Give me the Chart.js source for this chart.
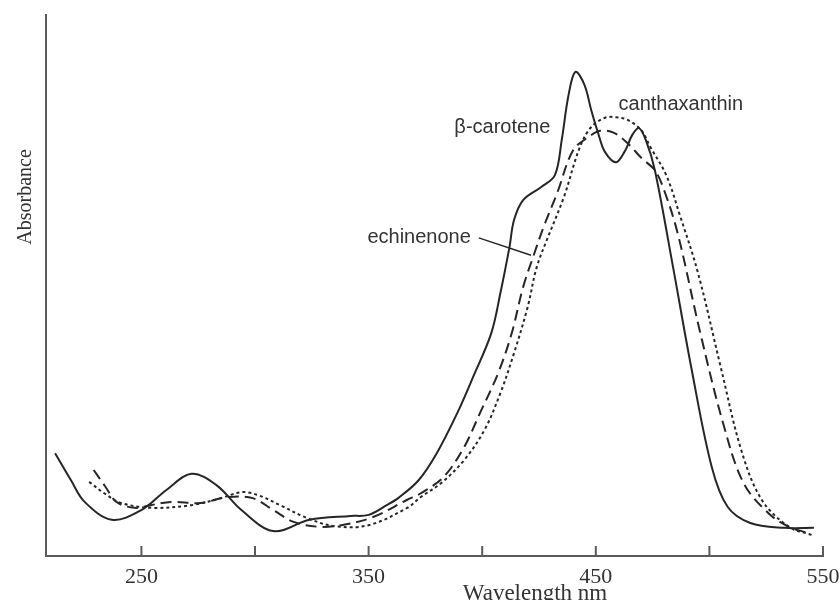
<!DOCTYPE html>
<html>
<head>
<meta charset="utf-8">
<title>Carotenoid absorption spectra</title>
<script src="https://cdn.jsdelivr.net/npm/chart.js@4.4.0/dist/chart.umd.min.js"></script>
<style>
  html, body { margin: 0; padding: 0; background: #fff; }
  #wrap { width: 840px; height: 600px; }
</style>
</head>
<body>
<div id="wrap"><canvas id="spectra" width="840" height="600"></canvas></div>
<script>
// wavelength (nm) and relative absorbance for each pigment
const betaCaroteneNm = [212, 219, 225, 237, 250, 261, 272, 283, 294, 308, 324, 342, 350, 358, 363, 372, 380, 389, 396, 404, 408, 412, 414, 418, 426, 432, 435, 438, 441, 445, 448, 451, 454, 459, 463, 466, 469, 472, 476, 484, 492, 501, 508, 518, 533, 546];
const betaCaroteneAbs = [0.190, 0.140, 0.100, 0.067, 0.085, 0.122, 0.152, 0.131, 0.085, 0.046, 0.067, 0.074, 0.076, 0.094, 0.107, 0.140, 0.190, 0.264, 0.331, 0.412, 0.486, 0.571, 0.621, 0.658, 0.682, 0.704, 0.769, 0.852, 0.895, 0.871, 0.824, 0.782, 0.747, 0.728, 0.750, 0.778, 0.791, 0.769, 0.713, 0.534, 0.349, 0.165, 0.091, 0.061, 0.052, 0.052];

const echinenoneNm = [229, 234, 239, 247, 254, 263, 276, 288, 299, 308, 317, 328, 338, 352, 367, 373, 383, 392, 399, 407, 413, 418, 423, 427, 433, 440, 447, 452, 458, 464, 470, 476, 480, 486, 496, 506, 515, 526, 535, 543];
const echinenoneAbs = [0.159, 0.129, 0.100, 0.089, 0.094, 0.100, 0.098, 0.109, 0.107, 0.085, 0.063, 0.054, 0.057, 0.072, 0.104, 0.116, 0.146, 0.201, 0.264, 0.338, 0.412, 0.497, 0.560, 0.608, 0.671, 0.750, 0.775, 0.786, 0.782, 0.763, 0.736, 0.713, 0.677, 0.597, 0.412, 0.246, 0.135, 0.079, 0.054, 0.043];

const canthaxanthinNm = [227, 234, 241, 255, 272, 285, 294, 301, 311, 323, 335, 350, 367, 373, 382, 392, 401, 408, 414, 420, 424, 429, 436, 443, 448, 454, 459, 464, 470, 474, 481, 487, 495, 505, 514, 523, 535, 545];
const canthaxanthinAbs = [0.137, 0.115, 0.098, 0.089, 0.094, 0.107, 0.118, 0.113, 0.094, 0.070, 0.055, 0.057, 0.089, 0.109, 0.135, 0.177, 0.233, 0.301, 0.375, 0.460, 0.534, 0.590, 0.664, 0.756, 0.793, 0.810, 0.811, 0.806, 0.787, 0.756, 0.704, 0.630, 0.523, 0.349, 0.196, 0.104, 0.054, 0.039];

// x axis ticks; only every other one carries a label
const tickValues = [250, 300, 350, 400, 450, 500, 550];
const labelledTicks = [250, 350, 450, 550];

const ink = '#262626';
const axisGrey = '#5a5a5a';

function toPoints(xs, ys) {
  return xs.map((x, i) => ({ x: x, y: ys[i] }));
}

// curve labels, placed in data units (nm, absorbance)
const curveLabels = [
  { text: '\u03b2-carotene', x: 430, y: 0.793, align: 'right' },
  { text: 'echinenone', x: 395, y: 0.588, align: 'right' },
  { text: 'canthaxanthin', x: 460, y: 0.835, align: 'left' }
];
const echinenonePointer = [{ x: 398.5, y: 0.588 }, { x: 421.5, y: 0.556 }];

const decorations = {
  id: 'decorations',
  afterDraw(chart) {
    const ctx = chart.ctx;
    const xs = chart.scales.x;
    const ys = chart.scales.y;
    const area = chart.chartArea;
    ctx.save();

    // inward tick marks along the wavelength axis
    ctx.strokeStyle = axisGrey;
    ctx.lineWidth = 2;
    tickValues.forEach(v => {
      const px = xs.getPixelForValue(v);
      ctx.beginPath();
      ctx.moveTo(px, area.bottom);
      ctx.lineTo(px, area.bottom - 10);
      ctx.stroke();
    });

    // curve names
    ctx.fillStyle = '#333';
    ctx.font = '20px "Liberation Sans", Arial, sans-serif';
    ctx.textBaseline = 'middle';
    curveLabels.forEach(l => {
      ctx.textAlign = l.align;
      ctx.fillText(l.text, xs.getPixelForValue(l.x), ys.getPixelForValue(l.y));
    });

    ctx.strokeStyle = ink;
    ctx.lineWidth = 1.5;
    ctx.beginPath();
    ctx.moveTo(xs.getPixelForValue(echinenonePointer[0].x), ys.getPixelForValue(echinenonePointer[0].y));
    ctx.lineTo(xs.getPixelForValue(echinenonePointer[1].x), ys.getPixelForValue(echinenonePointer[1].y));
    ctx.stroke();

    // axis titles
    ctx.fillStyle = '#333';
    ctx.font = '23px "Liberation Serif", "Times New Roman", serif';
    ctx.textAlign = 'center';
    ctx.textBaseline = 'alphabetic';
    ctx.fillText('Wavelength nm', (xs.getPixelForValue(400) + xs.getPixelForValue(450)) / 2 - 4, 600);

    ctx.translate(31, 197);
    ctx.rotate(-Math.PI / 2);
    ctx.font = '20px "Liberation Serif", "Times New Roman", serif';
    ctx.fillText('Absorbance', 0, 0);
    ctx.restore();
  }
};

const lineStyle = { borderColor: ink, borderWidth: 2, pointRadius: 0, fill: false, tension: 0.35 };

new Chart(document.getElementById('spectra'), {
  type: 'line',
  data: {
    datasets: [
      Object.assign({ label: '\u03b2-carotene', data: toPoints(betaCaroteneNm, betaCaroteneAbs) }, lineStyle),
      Object.assign({ label: 'echinenone', data: toPoints(echinenoneNm, echinenoneAbs), borderDash: [11, 6] }, lineStyle),
      Object.assign({ label: 'canthaxanthin', data: toPoints(canthaxanthinNm, canthaxanthinAbs), borderDash: [3, 3] }, lineStyle)
    ]
  },
  options: {
    responsive: false,
    animation: false,
    layout: { autoPadding: false, padding: { left: 0, top: 15, right: 17, bottom: 0 } },
    plugins: { legend: { display: false }, tooltip: { enabled: false } },
    scales: {
      x: {
        type: 'linear',
        min: 208,
        max: 550,
        afterBuildTicks: scale => { scale.ticks = tickValues.map(v => ({ value: v })); },
        afterFit: scale => { scale.height = 44; scale.paddingLeft = 0; scale.paddingRight = 0; },
        grid: { display: false, drawTicks: false },
        border: { display: true, color: axisGrey, width: 2 },
        ticks: {
          autoSkip: false,
          maxRotation: 0,
          padding: 8,
          color: '#333',
          font: { family: '"Liberation Serif", "Times New Roman", serif', size: 22 },
          callback: v => labelledTicks.includes(v) ? String(v) : ''
        }
      },
      y: {
        min: 0,
        max: 1,
        afterFit: scale => { scale.width = 46; },
        grid: { display: false, drawTicks: false },
        border: { display: true, color: axisGrey, width: 2 },
        ticks: { display: false }
      }
    }
  },
  plugins: [decorations]
});
</script>
</body>
</html>
